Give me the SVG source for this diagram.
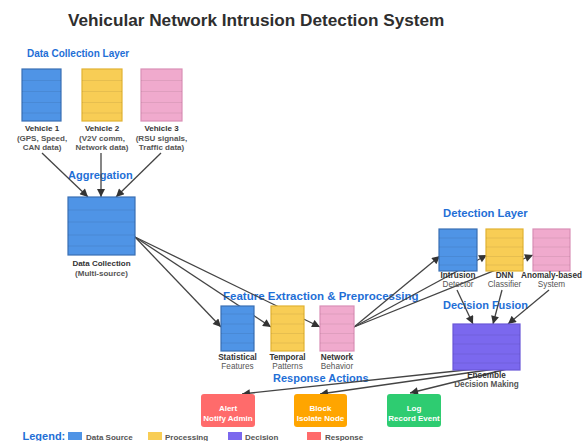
<svg xmlns="http://www.w3.org/2000/svg" width="585" height="441" viewBox="0 0 585 441">
  <style>
    text { font-family: "Liberation Sans", Arial, sans-serif; }
    .title { font-size: 17.2px; font-weight: bold; fill: #2e2e2e; }
    .layer { font-weight: bold; fill: #1f6fd6; }
    .nm { font-size: 8px; font-weight: bold; fill: #333; text-anchor: middle; }
    .sub { font-size: 8px; font-weight: bold; fill: #555; text-anchor: middle; }
    .nm2 { font-size: 8.2px; font-weight: bold; fill: #333; text-anchor: middle; }
    .sub2 { font-size: 8.2px; fill: #555; text-anchor: middle; }
    .wt { font-size: 8px; font-weight: bold; fill: #fff; text-anchor: middle; }
    .leg { font-size: 8px; font-weight: bold; fill: #555; }
    .blue { fill: #4f94e6; stroke: #3a6fb3; stroke-width: 1.2; }
    .yel { fill: #f8cd55; stroke: #e2b232; stroke-width: 1.2; }
    .pink { fill: #f0aacd; stroke: #d98fb6; stroke-width: 1.2; }
    .purp { fill: #7b68ee; stroke: #6a58d8; stroke-width: 1.2; }
    .stripe { stroke: #000; stroke-opacity: 0.07; stroke-width: 1; }
    .edge { stroke: #444; stroke-width: 1.3; fill: none; marker-end: url(#arr); }
  </style>
  <defs>
    <marker id="arr" viewBox="0 0 10 10" refX="10" refY="5" markerWidth="10" markerHeight="8" markerUnits="userSpaceOnUse" orient="auto">
      <path d="M0,0 L10,5 L0,10 z" fill="#333"/>
    </marker>
  </defs>
  <rect width="585" height="441" fill="#fff"/>

  <text class="title" x="68" y="26">Vehicular Network Intrusion Detection System</text>

  <!-- section headings -->
  <text class="layer" x="27" y="57" font-size="10">Data Collection Layer</text>
  <text class="layer" x="68" y="179" font-size="11">Aggregation</text>
  <text class="layer" x="223" y="300" font-size="11.5">Feature Extraction &amp; Preprocessing</text>
  <text class="layer" x="443" y="217" font-size="11.3">Detection Layer</text>
  <text class="layer" x="443" y="309" font-size="11">Decision Fusion</text>
  <text class="layer" x="273" y="382" font-size="11">Response Actions</text>

  <!-- connectors -->
  <g id="connectors">
    <line class="edge" x1="42" y1="153" x2="88" y2="197"/>
    <line class="edge" x1="101" y1="153" x2="101" y2="197"/>
    <line class="edge" x1="161" y1="153" x2="116" y2="197"/>
    <line class="edge" x1="135" y1="237" x2="221" y2="327"/>
    <line class="edge" x1="135" y1="237" x2="271" y2="327"/>
    <line class="edge" x1="135" y1="237" x2="320" y2="327"/>
    <line class="edge" x1="354" y1="327" x2="440" y2="256"/>
    <line class="edge" x1="354" y1="327" x2="487" y2="255"/>
    <line class="edge" x1="354" y1="327" x2="533" y2="255"/>
    <line class="edge" x1="457" y1="290" x2="473" y2="324"/>
    <line class="edge" x1="502" y1="290" x2="493" y2="324"/>
    <line class="edge" x1="549" y1="290" x2="508" y2="324"/>
    <line class="edge" x1="475" y1="369" x2="242" y2="394"/>
    <line class="edge" x1="495" y1="369" x2="320" y2="394"/>
    <line class="edge" x1="507" y1="369" x2="410" y2="393"/>
  </g>

  <!-- data collection layer -->
  <g id="vehicle1">
    <rect class="blue" x="22" y="69" width="39" height="52"/>
    <path class="stripe" d="M22,80.5H61M22,91.5H61M22,102.5H61M22,113H61"/>
    <text class="nm" x="42" y="131">Vehicle 1</text>
    <text class="sub" x="42" y="140.5">(GPS, Speed,</text>
    <text class="sub" x="42" y="149.5">CAN data)</text>
  </g>
  <g id="vehicle2">
    <rect class="yel" x="82" y="69" width="40" height="52"/>
    <path class="stripe" d="M82,80.5H122M82,91.5H122M82,102.5H122M82,113H122"/>
    <text class="nm" x="102" y="131">Vehicle 2</text>
    <text class="sub" x="102" y="140.5">(V2V comm,</text>
    <text class="sub" x="102" y="149.5">Network data)</text>
  </g>
  <g id="vehicle3">
    <rect class="pink" x="141" y="69" width="41" height="52"/>
    <path class="stripe" d="M141,80.5H182M141,91.5H182M141,102.5H182M141,113H182"/>
    <text class="nm" x="161.5" y="131">Vehicle 3</text>
    <text class="sub" x="161.5" y="140.5">(RSU signals,</text>
    <text class="sub" x="161.5" y="149.5">Traffic data)</text>
  </g>

  <!-- aggregation -->
  <g id="data-collection">
    <rect class="blue" x="68" y="197" width="67" height="58"/>
    <path class="stripe" d="M68,210H135M68,222H135M68,235H135M68,246H135"/>
    <text class="nm" x="101.5" y="266" font-size="8.3">Data Collection</text>
    <text class="sub" x="101.5" y="276">(Multi-source)</text>
  </g>

  <!-- feature extraction -->
  <g id="statistical">
    <rect class="blue" x="221" y="306" width="33" height="45"/>
    <path class="stripe" d="M221,314H254M221,324H254M221,333.5H254M221,343H254"/>
    <text class="nm2" x="237.5" y="359.5">Statistical</text>
    <text class="sub2" x="237.5" y="368.5">Features</text>
  </g>
  <g id="temporal">
    <rect class="yel" x="271" y="306" width="33" height="45"/>
    <path class="stripe" d="M271,314H304M271,324H304M271,333.5H304M271,343H304"/>
    <text class="nm2" x="287.5" y="359.5">Temporal</text>
    <text class="sub2" x="287.5" y="368.5">Patterns</text>
  </g>
  <g id="network">
    <rect class="pink" x="320" y="306" width="34" height="45"/>
    <path class="stripe" d="M320,314H354M320,324H354M320,333.5H354M320,343H354"/>
    <text class="nm2" x="337" y="359.5">Network</text>
    <text class="sub2" x="337" y="368.5">Behavior</text>
  </g>

  <!-- detection layer -->
  <g id="intrusion-detector">
    <rect class="blue" x="439" y="229" width="38" height="42"/>
    <path class="stripe" d="M439,238H477M439,247H477M439,256.5H477M439,265H477"/>
    <text class="nm2" x="458" y="278">Intrusion</text>
    <text class="sub2" x="458" y="287">Detector</text>
  </g>
  <g id="dnn-classifier">
    <rect class="yel" x="486" y="229" width="37" height="42"/>
    <path class="stripe" d="M486,238H523M486,247H523M486,256.5H523M486,265H523"/>
    <text class="nm2" x="504.5" y="278">DNN</text>
    <text class="sub2" x="504.5" y="287">Classifier</text>
  </g>
  <g id="anomaly-system">
    <rect class="pink" x="533" y="229" width="37" height="42"/>
    <path class="stripe" d="M533,238H570M533,247H570M533,256.5H570M533,265H570"/>
    <text class="nm2" x="551.5" y="278">Anomaly-based</text>
    <text class="sub2" x="551.5" y="287">System</text>
  </g>

  <!-- decision fusion -->
  <g id="ensemble">
    <rect class="purp" x="453" y="324" width="67" height="46"/>
    <path class="stripe" d="M453,335H520M453,344H520M453,354H520M453,363H520"/>
    <text class="nm2" x="486.5" y="378">Ensemble</text>
    <text class="sub2" x="486.5" y="387" font-weight="bold">Decision Making</text>
  </g>

  <!-- response actions -->
  <g id="alert">
    <rect x="201" y="394" width="54" height="33" rx="3" fill="#ff6b6b"/>
    <text class="wt" x="228" y="411">Alert</text>
    <text class="wt" x="228" y="420.5">Notify Admin</text>
  </g>
  <g id="block">
    <rect x="294" y="394" width="53" height="33" rx="3" fill="#ffa500"/>
    <text class="wt" x="320.5" y="411">Block</text>
    <text class="wt" x="320.5" y="420.5">Isolate Node</text>
  </g>
  <g id="log">
    <rect x="387" y="394" width="54" height="33" rx="3" fill="#2ecc71"/>
    <text class="wt" x="414" y="411">Log</text>
    <text class="wt" x="414" y="420.5">Record Event</text>
  </g>

  <!-- legend -->
  <g id="legend">
    <text class="layer" x="22.5" y="439.5" font-size="11">Legend:</text>
    <rect x="68" y="432" width="14" height="8" fill="#4f94e6"/>
    <text class="leg" x="86" y="439.5">Data Source</text>
    <rect x="148" y="432" width="14" height="8" fill="#f8cd55"/>
    <text class="leg" x="165" y="439.5">Processing</text>
    <rect x="228" y="432" width="14" height="8" fill="#7b68ee"/>
    <text class="leg" x="245" y="439.5">Decision</text>
    <rect x="307" y="432" width="14" height="8" fill="#ff6b6b"/>
    <text class="leg" x="325" y="439.5">Response</text>
  </g>
</svg>
